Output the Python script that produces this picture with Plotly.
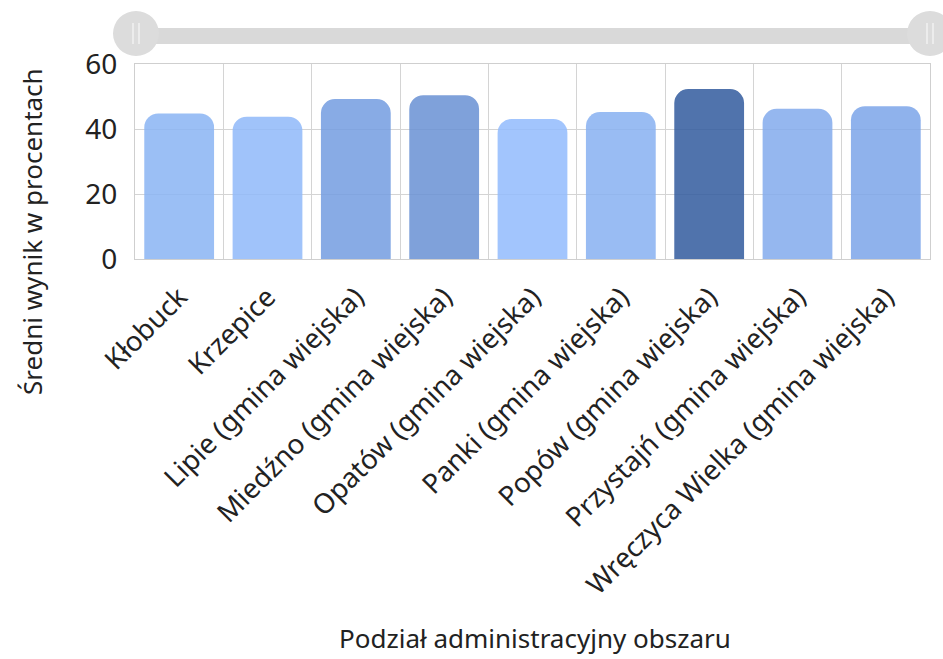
import plotly.graph_objects as go

# Average score per administrative unit
categories = [
    "Kłobuck",
    "Krzepice",
    "Lipie (gmina wiejska)",
    "Miedźno (gmina wiejska)",
    "Opatów (gmina wiejska)",
    "Panki (gmina wiejska)",
    "Popów (gmina wiejska)",
    "Przystajń (gmina wiejska)",
    "Wręczyca Wielka (gmina wiejska)",
]
scores = [44.8, 43.8, 49.2, 50.4, 43.1, 45.2, 52.3, 46.2, 47.0]
bar_colors = [
    "#89B4F3", "#8FB8F9", "#739CE0", "#6890D3", "#92BBFD",
    "#87B0F1", "#315A9E", "#82AAEC", "#7BA4E9",
]
y_ticks = [0, 20, 40, 60]

W, H = 943, 659
L, R, T, B = 135, 13, 64, 400
PW, PH = W - L - R, H - T - B


def px(x):
    return (x - L) / PW


def py(y):
    return (H - B - y) / PH


FONT = "Noto Sans"
TXT = "#222222"

fig = go.Figure(
    go.Bar(
        x=categories,
        y=scores,
        width=0.79,
        marker=dict(color=bar_colors, opacity=0.85, line=dict(width=0), cornerradius=14),
        hoverinfo="x+y",
    )
)

# scroll bar above the plot
shapes = [
    dict(type="rect", xref="paper", yref="paper",
         x0=px(150), x1=px(915), y0=py(44), y1=py(28),
         fillcolor="#d9d9d9", line=dict(width=0), layer="above"),
]
for cx in (136, 930):
    shapes.append(dict(type="circle", xref="paper", yref="paper",
                       x0=px(cx - 23), x1=px(cx + 23), y0=py(56), y1=py(11),
                       fillcolor="#dcdcdc", line=dict(width=0), layer="above"))
    for dx in (-3, 3):
        shapes.append(dict(type="line", xref="paper", yref="paper",
                           x0=px(cx + dx), x1=px(cx + dx), y0=py(44), y1=py(23),
                           line=dict(color="#f2f2f2", width=1.5), layer="above"))

fig.update_layout(
    width=W, height=H,
    margin=dict(l=L, r=R, t=T, b=B, autoexpand=False),
    paper_bgcolor="white", plot_bgcolor="white",
    showlegend=False,
    font=dict(family=FONT, color=TXT),
    shapes=shapes,
    annotations=[
        dict(text="Podział administracyjny obszaru", xref="paper", yref="paper",
             x=px(535), y=py(638), xanchor="center", yanchor="middle",
             showarrow=False, font=dict(family=FONT, size=26, color=TXT)),
        dict(text="Średni wynik w procentach", xref="paper", yref="paper",
             x=px(32), y=py(232), xanchor="center", yanchor="middle",
             textangle=-90, showarrow=False,
             font=dict(family=FONT, size=26, color=TXT)),
    ],
)

fig.update_xaxes(
    type="category",
    tickson="boundaries",
    tickangle=-45,
    tickfont=dict(family=FONT, size=27.5, color=TXT),
    ticks="",
    ticklabelstandoff=10,
    showgrid=True, gridcolor="#d4d4d4", gridwidth=1,
    showline=True, linecolor="#cfcfcf", linewidth=1, mirror=True,
    zeroline=False,
    fixedrange=True,
)
fig.update_yaxes(
    range=[0, 60],
    tickvals=y_ticks,
    tickfont=dict(family=FONT, size=28, color=TXT),
    ticks="",
    ticklabelstandoff=11,
    showgrid=True, gridcolor="#d4d4d4", gridwidth=1,
    showline=True, linecolor="#cfcfcf", linewidth=1, mirror=True,
    zeroline=False,
    fixedrange=True,
)

fig.write_html("out.html", config={"displayModeBar": False})
